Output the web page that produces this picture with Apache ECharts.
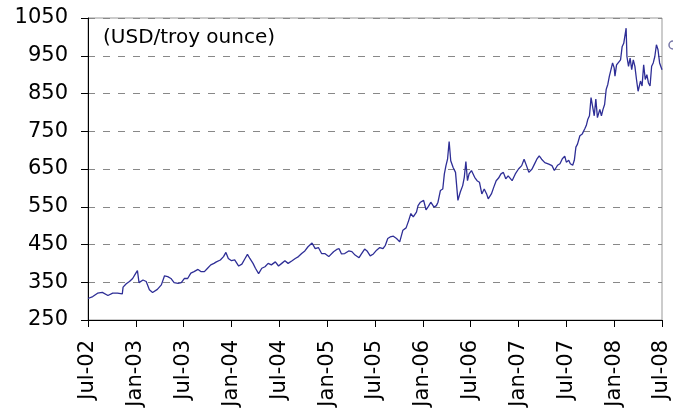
<!DOCTYPE html>
<html style="height: 100%">
<head>
  <meta charset="utf-8">
</head>
<body style="height: 100%; margin: 0; background: #fff">
  <div id="container" style="width: 673px; height: 416px"></div>

  <script type="text/javascript" src="https://fastly.jsdelivr.net/npm/echarts@6/dist/echarts.min.js"></script>
  <script type="text/javascript">
    // months since Jul-02 and gold price (USD/troy ounce)
    var months = [
      0, 0.6, 1.2, 1.8, 2.5, 3.1, 3.7, 4.3, 4.4, 4.8, 5.2, 5.6, 6.0, 6.2, 6.4, 6.9, 7.3, 7.7, 8.1, 8.3,
      8.7, 9.2, 9.6, 10.0, 10.4, 10.8, 11.3, 11.7, 12.1, 12.5, 12.9, 13.3, 13.8, 14.2, 14.6, 15.0, 15.4, 15.8,
      16.1, 16.6, 17.0, 17.3, 17.6, 18.0, 18.4, 18.9, 19.3, 19.7, 20.0, 20.3, 20.7, 21.0, 21.4, 21.8, 22.2,
      22.6, 23.0, 23.5, 23.9, 24.3, 24.7, 25.1, 25.6, 26.0, 26.4, 26.8, 27.2, 27.6, 28.1, 28.5, 28.9, 29.3,
      29.7, 30.2, 30.8, 31.2, 31.5, 31.8, 32.2, 32.7, 33.1, 33.5, 34.0, 34.3, 34.7, 35.0, 35.4, 35.8, 36.2,
      36.6, 37.0, 37.3, 37.6, 37.9, 38.3, 38.7, 39.1, 39.5, 39.9, 40.2, 40.5, 40.8, 41.2, 41.4, 41.7, 42.1,
      42.4, 42.7, 43.0, 43.4, 43.7, 43.9, 44.2, 44.5, 44.7, 44.9, 45.1, 45.3, 45.5, 45.8, 46.1, 46.4, 46.7,
      47.0, 47.2, 47.4, 47.6, 47.8, 48.1, 48.5, 48.8, 49.1, 49.4, 49.7, 50.0, 50.2, 50.6, 50.9, 51.2, 51.5,
      51.8, 52.1, 52.4, 52.7, 53.2, 53.6, 54.0, 54.4, 54.7, 55.0, 55.3, 55.7, 56.0, 56.3, 56.6, 56.9, 57.3,
      57.8, 58.2, 58.5, 58.9, 59.2, 59.5, 59.8, 60.0, 60.3, 60.5, 60.8, 61.0, 61.2, 61.4, 61.7, 62.0, 62.3,
      62.5, 62.7, 62.9, 63.1, 63.3, 63.5, 63.7, 63.9, 64.2, 64.4, 64.6, 64.8, 65.0, 65.2, 65.4, 65.6, 65.8,
      66.0, 66.1, 66.3, 66.5, 66.8, 67.0, 67.2, 67.3, 67.5, 67.6, 67.8, 68.0, 68.2, 68.4, 68.6, 68.8, 69.0,
      69.3, 69.5, 69.7, 69.9, 70.1, 70.3, 70.5, 70.7, 70.9, 71.1, 71.3, 71.5, 71.7, 72.0
    ];
    var prices = [
      307, 312, 321, 323, 315, 321, 321, 319, 337, 346, 352, 360, 374, 381, 349, 356, 352, 330, 323, 321,
      331, 343, 367, 365, 360, 349, 347, 349, 360, 360, 374, 378, 384, 378, 378, 387, 396, 400,
      404, 409, 418, 429, 413, 407, 409, 393, 398, 413, 424, 413, 400, 387, 373, 387, 391,
      400, 396, 404, 393, 400, 407, 400, 407, 413, 418, 426, 433, 444, 454, 439, 442, 426,
      426, 418, 431, 437, 439, 425, 426, 433, 431, 422, 415, 425, 438, 433, 420, 425, 435,
      442, 439, 448, 466, 470, 472, 466, 457, 488, 494, 512, 532, 523, 536, 553, 562, 567,
      542, 551, 562, 549, 553, 562, 593, 597, 637, 659, 676, 723, 672, 654, 641, 567, 589,
      606, 628, 670, 619, 637, 646, 628, 619, 615, 584, 597, 584, 571, 584, 602, 619, 626,
      637, 641, 624, 632, 619, 637, 650, 659, 676, 659, 641, 650, 663, 676, 685, 676, 667,
      663, 659, 646, 660, 664, 677, 684, 668, 673, 664, 660, 673, 708, 716, 738, 743, 756,
      765, 782, 791, 839, 835, 791, 835, 786, 808, 791, 808, 821, 861, 874, 896, 913, 931,
      918, 896, 926, 931, 939, 974, 983, 979, 1023, 948, 922, 944, 913, 939, 922, 887, 856,
      883, 870, 926, 887, 900, 878, 870, 922, 931, 948, 979, 966, 931, 913
    ];
    var tickLabels = ['Jul-02', 'Jan-03', 'Jul-03', 'Jan-04', 'Jul-04', 'Jan-05', 'Jul-05',
      'Jan-06', 'Jul-06', 'Jan-07', 'Jul-07', 'Jan-08', 'Jul-08'];

    var dom = document.getElementById('container');
    var myChart = echarts.init(dom, null, { renderer: 'canvas' });

    var points = months.map(function (m, i) { return [m, prices[i]]; });

    var option = {
      animation: false,
      backgroundColor: '#fff',
      textStyle: { fontFamily: 'DejaVu Sans' },
      title: {
        text: '(USD/troy ounce)',
        left: 103,
        top: 28,
        padding: 0,
        textStyle: { fontSize: 20, fontWeight: 'normal', color: '#000', fontFamily: 'DejaVu Sans' }
      },
      // legend marker cut off at the right edge
      graphic: [
        {
          type: 'circle',
          shape: { cx: 673, cy: 45, r: 4 },
          style: { fill: 'none', stroke: '#7878a8', lineWidth: 1.5 }
        }
      ],
      grid: {
        left: 88,
        right: 11,
        top: 18,
        bottom: 96,
        show: true,
        borderColor: '#999',
        borderWidth: 1
      },
      xAxis: {
        type: 'value',
        min: 0,
        max: 72,
        interval: 6,
        axisLine: { show: true, lineStyle: { color: '#000', width: 1 } },
        axisTick: { show: true, length: 7, lineStyle: { color: '#000' } },
        splitLine: { show: false },
        axisLabel: {
          rotate: 90,
          margin: 20,
          fontSize: 21,
          color: '#000',
          fontFamily: 'DejaVu Sans',
          formatter: function (v) { return tickLabels[Math.round(v / 6)]; }
        }
      },
      yAxis: {
        type: 'value',
        min: 250,
        max: 1050,
        interval: 100,
        axisLine: { show: true, lineStyle: { color: '#000', width: 1 } },
        axisTick: { show: true, length: 7, lineStyle: { color: '#000' } },
        splitLine: { show: true, lineStyle: { color: '#888', type: [7, 8], width: 1 } },
        axisLabel: {
          margin: 20,
          fontSize: 21,
          color: '#000',
          fontFamily: 'DejaVu Sans',
          padding: [6, 0, 0, 0],
          formatter: function (v) { return String(v); }
        }
      },
      series: [
        {
          name: 'Gold',
          type: 'line',
          data: points,
          showSymbol: false,
          symbol: 'none',
          lineStyle: { color: '#2e2e96', width: 1.3 },
          itemStyle: { color: '#2e2e96' }
        }
      ]
    };

    myChart.setOption(option);
    window.addEventListener('resize', myChart.resize);
  </script>
</body>
</html>
